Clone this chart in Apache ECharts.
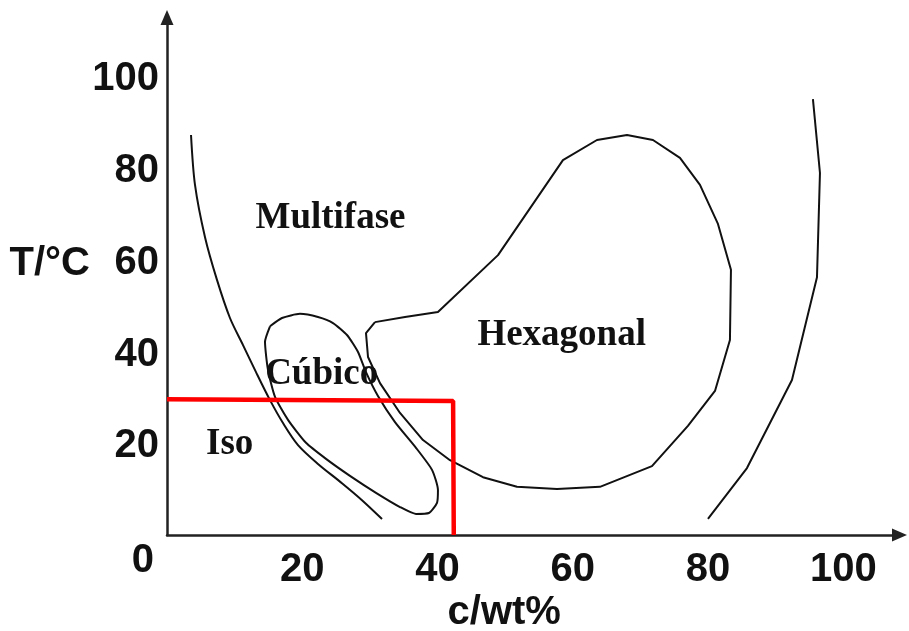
<!DOCTYPE html>
<html>
<head>
<meta charset="utf-8">
<script src="https://cdn.jsdelivr.net/npm/echarts@6/dist/echarts.min.js"></script>
<style>
  html, body { margin: 0; padding: 0; background: #fff; }
  #chart { width: 909px; height: 631px; }
</style>
</head>
<body>
<div id="chart"></div>
<script>
// Phase diagram: temperature (°C) against surfactant concentration (wt%).
// Each boundary is a list of [c, T] points.

// Outer boundary of the multiphase region (left branch)
const leftBoundary = [
  [3.55, 87.2], [4.14, 76.3], [5.62, 64.9], [7.39, 55.6], [9.31, 47.3],
  [11.24, 41.4], [13.16, 35.5], [15.23, 29.4], [17.15, 24.4], [19.37, 19.6],
  [22.32, 15.5], [25.87, 11.3], [28.83, 7.6], [31.79, 3.5]
];

// Cubic phase loop
const cubicLoop = [
  [15.23, 45.5], [17.0, 47.3], [19.66, 48.2], [22.32, 47.5], [24.54, 46.2],
  [26.61, 43.6], [28.24, 39.9], [29.42, 35.5], [31.19, 30.3], [33.71, 24.6],
  [36.81, 19.0], [39.18, 14.2], [40.06, 9.8], [39.92, 7.0], [38.73, 4.8],
  [36.81, 4.6], [34.45, 6.1], [30.9, 9.2], [27.05, 12.9], [23.51, 16.6],
  [20.55, 20.1], [17.89, 25.1], [15.97, 30.1], [14.93, 36.0], [14.49, 42.1],
  [15.23, 45.5]
];

// Hexagonal phase loop
const hexLoop = [
  [30.75, 46.4], [35.19, 47.5], [40.06, 48.6], [48.94, 61.0], [58.54, 81.7],
  [63.57, 86.1], [68.01, 87.2], [71.85, 86.1], [75.84, 82.2], [78.8, 76.3],
  [81.46, 67.8], [83.38, 57.8], [83.23, 42.5], [81.02, 31.4], [77.02, 23.8],
  [71.7, 15.0], [64.01, 10.5], [57.66, 10.0], [51.74, 10.5], [46.72, 12.6],
  [41.84, 16.3], [37.85, 20.7], [34.45, 26.6], [31.49, 33.1], [29.72, 38.8],
  [29.42, 44.0], [30.75, 46.4]
];

// Outer boundary of the multiphase region (right branch)
const rightBoundary = [
  [95.5, 95.0], [96.54, 78.9], [96.1, 56.2], [92.4, 33.8], [85.75, 14.6], [79.98, 3.5]
];

// Limits of the isotropic working window
const isoLimit = [[0, 29.6], [42.3, 29.2], [42.4, 0]];

// Region names and where they sit, in [c, T]
const regionNames = ['Multifase', 'Hexagonal', 'Cúbico', 'Iso'];
const regionAnchors = [[24.17, 68.9], [58.35, 43.4], [22.87, 35.1], [9.27, 19.7]];

// Axis tick values
const xTicks = [20, 40, 60, 80, 100];
const yTicks = [0, 20, 40, 60, 80, 100];

const sans = 'Liberation Sans';
const serif = 'Liberation Serif';
const ink = '#111';

const tickFont = { fontSize: 40, fontWeight: 'bold', fontFamily: sans, color: ink };

function curve(data, smooth) {
  return {
    type: 'line',
    data: data,
    symbol: 'none',
    smooth: smooth,
    silent: true,
    lineStyle: { color: ink, width: 2 },
    z: 2
  };
}

const chart = echarts.init(document.getElementById('chart'));
chart.setOption({
  animation: false,
  backgroundColor: '#fff',
  grid: {
    left: 167, right: 9.5, top: 17.5, bottom: 96,
    containLabel: false,
    outerBoundsMode: 'none'
  },
  xAxis: {
    type: 'value',
    min: 0,
    max: 108.3,
    interval: 20,
    name: 'c/wt%',
    nameLocation: 'middle',
    nameGap: 58,
    nameMoveOverlap: false,
    nameTextStyle: Object.assign({}, tickFont, { padding: [0, 58, 0, 0] }),
    axisLine: {
      show: true,
      symbol: ['none', 'triangle'],
      symbolSize: [13, 15],
      lineStyle: { color: '#222', width: 2.5 }
    },
    axisTick: { show: false },
    splitLine: { show: false },
    axisLabel: Object.assign({}, tickFont, {
      margin: 15,
      showMaxLabel: false,
      formatter: v => (xTicks.indexOf(v) >= 0 ? String(v) : '')
    })
  },
  yAxis: {
    type: 'value',
    min: 0,
    max: 112.8,
    interval: 20,
    name: '{n|T/°C}',
    nameLocation: 'middle',
    nameRotate: 0,
    nameGap: 77,
    nameMoveOverlap: false,
    nameTextStyle: Object.assign({}, tickFont, {
      rich: { n: Object.assign({}, tickFont, { padding: [0, 0, 24, 0] }) }
    }),
    axisLine: {
      show: true,
      symbol: ['none', 'triangle'],
      symbolSize: [13, 15],
      lineStyle: { color: '#222', width: 2.5 }
    },
    axisTick: { show: false },
    splitLine: { show: false },
    axisLabel: Object.assign({}, tickFont, {
      margin: 8,
      showMinLabel: true,
      showMaxLabel: false,
      formatter: v => {
        if (v === 0) return '{z|0}';
        return yTicks.indexOf(v) >= 0 ? '{t|' + v + '}' : '';
      },
      rich: {
        t: Object.assign({}, tickFont, { padding: [6, 0, 0, 0] }),
        z: Object.assign({}, tickFont, { padding: [52, 5, 0, 0] })
      }
    })
  },
  series: [
    curve(leftBoundary, 0.3),
    curve(cubicLoop, 0.2),
    curve(hexLoop, false),
    curve(rightBoundary, false),
    {
      type: 'line',
      data: isoLimit,
      symbol: 'none',
      silent: true,
      lineStyle: { color: '#ff0000', width: 4.5 },
      z: 4
    },
    {
      type: 'scatter',
      symbolSize: 0,
      silent: true,
      z: 5,
      itemStyle: { opacity: 1 },
      data: regionNames.map((n, i) => ({ name: n, value: regionAnchors[i] })),
      label: {
        show: true,
        position: 'inside',
        formatter: p => p.name,
        fontFamily: serif,
        fontWeight: 'bold',
        fontSize: 37,
        color: ink
      }
    }
  ]
});
</script>
</body>
</html>
